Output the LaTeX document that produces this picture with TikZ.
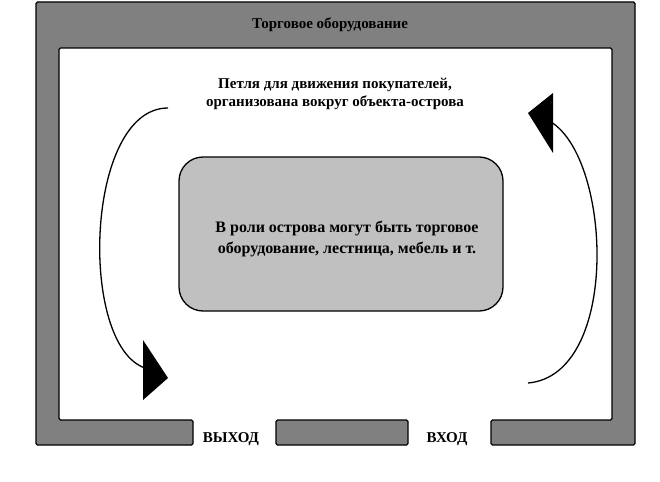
\documentclass[tikz,border=0pt]{standalone}
\usepackage{fontspec}
\setmainfont{Liberation Serif}
\definecolor{wallgray}{RGB}{128,128,128}
\definecolor{islandgray}{RGB}{192,192,192}
\begin{document}
\begin{tikzpicture}[x=1pt, y=-1pt,
    wall/.style={fill=wallgray, draw=black, line width=1.3pt, rounded corners=1.5pt},
    label/.style={font=\fontsize{15}{18}\selectfont\bfseries, align=center, inner sep=0pt},
    loop/.style={line width=1.3pt},
    head/.style={fill=black}]
    \useasboundingbox (0,0) rectangle (660,481);

    % walls of the hall
    \draw[wall] (36,2) -- (635,2) -- (635,445) -- (491,445) -- (491,420) -- (612,420)
        -- (612,48) -- (59,48) -- (59,420) -- (193,420) -- (193,445) -- (36,445) -- cycle;
    \draw[wall] (276,420) rectangle (408,445);

    \node[label] (title) at (330,25) {Торговое оборудование};

    % island
    \draw[fill=islandgray, line width=1.3pt, rounded corners=24pt] (179,157) rectangle (503,311);
    \node[label, font=\fontsize{16}{21}\selectfont\bfseries] (island) at (347,239)
        {В роли острова могут быть торговое\\оборудование, лестница, мебель и т.};

    \node[label] (path) at (335,94)
        {Петля для движения покупателей,\\организована вокруг объекта-острова};

    % customer loop
    \coordinate (a1) at (168,108);
    \coordinate (a2) at (145,368);
    \coordinate (b1) at (528,383);
    \coordinate (b2) at (551,122);
    \draw[loop] (a1) .. controls (85,108) and (78,345) .. (a2);
    \fill[head] (143,340) -- (168,378) -- (143,400) -- cycle;
    \draw[loop] (b1) .. controls (620,375) and (612,160) .. (b2);
    \fill[head] (553,93) -- (528,113) -- (553,153) -- cycle;

    \node[label] (exit) at (231,439) {ВЫХОД};
    \node[label] (entry) at (447,439) {ВХОД};
\end{tikzpicture}
\end{document}
